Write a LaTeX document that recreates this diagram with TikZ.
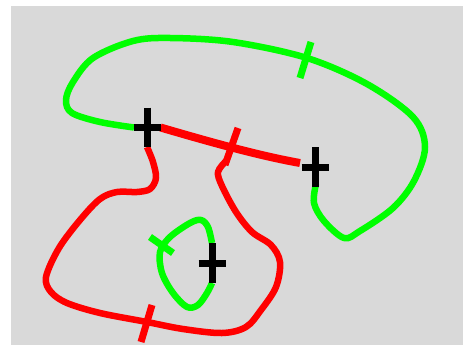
\documentclass[tikz,border=0pt]{standalone}
\usetikzlibrary{calc}
\begin{document}
\begin{tikzpicture}[x=1pt,y=-1pt,
  grncurve/.style={draw={rgb,255:red,0;green,255;blue,0}, line width=6.5pt, line join=round},
  redcurve/.style={draw={rgb,255:red,255;green,0;blue,0}, line width=6.5pt, line join=round},
  redbar/.style={draw={rgb,255:red,255;green,0;blue,0}, line width=8pt},
  grntick/.style={draw={rgb,255:red,0;green,255;blue,0}, line width=7pt},
  redtick/.style={draw={rgb,255:red,255;green,0;blue,0}, line width=7pt},
  crossbar/.style={draw=black, line width=7pt}]
\useasboundingbox (0,0) rectangle (463,345);
\fill[gray!30] (11,6) rectangle (463,345);
% cross centres
\coordinate (c1) at (147.5,127.5);
\coordinate (c2) at (315,167);
\coordinate (c3) at (212,263);
% big green loop
\draw[grncurve] plot[smooth, tension=0.55] coordinates {
 (134,127.5) (100,122) (72,113) (66,100) (73,82) (93,58) (133,41) (170,38)
 (233,42) (307,58) (367,84) (413,117) (425,147) (414,181) (393,208)
 (360,231) (344,238) (324,221) (314,203) (316,184)};
% red bar between crosses
\draw[redbar] ($(c1)+(13,0)$) .. controls (200,139) and (255,155) .. ($(c2)+(-15,-4)$);
% red lower loop
\draw[redcurve] plot[smooth, tension=0.55] coordinates {
 (147,147) (153,162) (156,178) (150,189) (137,192) (117,192) (100,199) (80,220)
 (59,248) (46,277) (51,292) (67,303) (100,313) (147,322) (183,329) (222,333)
 (246,327) (261,310) (276,287) (280,262) (271,245) (252,232) (236,212)
 (222,186) (218,172) (226,161)};
% small green loop
\draw[grncurve] plot[smooth, tension=0.55] coordinates {
 (212,243) (208,227) (201,220) (190,223) (170,237) (160,252) (162,273)
 (173,293) (187,307) (198,305) (207,293) (212,283)};
% ticks
\draw[grntick] (311,42) -- (300,78);
\draw[redtick] (238,128) -- (225,165);
\draw[redtick] (152,305) -- (141,342);
\draw[grntick] (150,237) -- (173,253);
% crosses
\foreach \c in {c1,c2,c3}{
  \draw[crossbar] ($(\c)+(-13.5,0)$) -- ($(\c)+(13.5,0)$);
  \draw[crossbar] ($(\c)+(0,-20)$) -- ($(\c)+(0,19.5)$);
}
\end{tikzpicture}
\end{document}
